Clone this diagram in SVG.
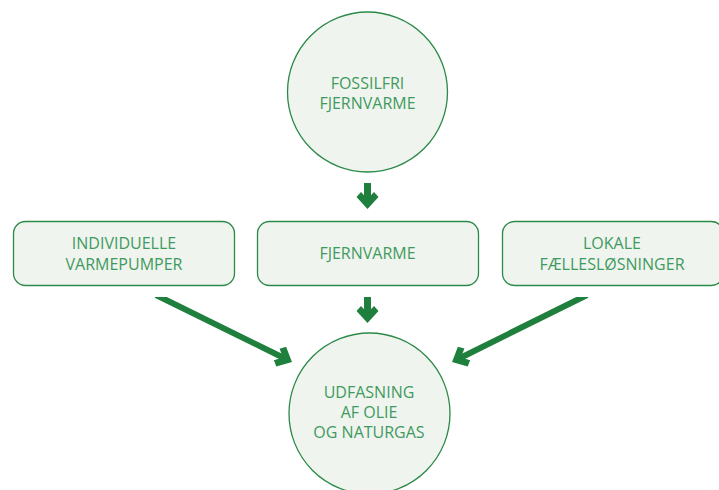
<svg xmlns="http://www.w3.org/2000/svg" width="719" height="490" viewBox="0 0 719 490">
<style>
.node{fill:#eff4ee;stroke:#2b8a48;stroke-width:1.3}
.lbl{font-family:"Open Sans","Noto Sans",sans-serif;font-size:16px;fill:#3f9a5f;text-anchor:middle}
.arr{stroke:#1f7f3d;fill:none}
</style>
<defs>
<marker id="head" markerUnits="userSpaceOnUse" viewBox="-10 -12 20 24" markerWidth="20" markerHeight="24" refX="0" refY="0" orient="auto">
<path d="M9,0 L-3,11 L-8,6.5 L-1,0 L-8,-6.5 L-3,-11 Z" fill="#1f7f3d"/>
</marker>
<clipPath id="below"><rect x="0" y="297" width="719" height="193"/></clipPath>
</defs>
<rect width="719" height="490" fill="#ffffff"/>
<g id="fossilfri">
<circle class="node" cx="367.5" cy="92" r="80"/>
<text class="lbl" x="367.5" y="89">FOSSILFRI</text>
<text class="lbl" x="367.5" y="109">FJERNVARME</text>
</g>
<g id="individuelle">
<rect class="node" x="13.5" y="221.5" width="221" height="64" rx="12"/>
<text class="lbl" x="124" y="249">INDIVIDUELLE</text>
<text class="lbl" x="124" y="270">VARMEPUMPER</text>
</g>
<g id="fjernvarme">
<rect class="node" x="257.5" y="221.5" width="221" height="64" rx="12"/>
<text class="lbl" x="367.5" y="259">FJERNVARME</text>
</g>
<g id="lokale">
<rect class="node" x="502.5" y="221.5" width="221" height="64" rx="12"/>
<text class="lbl" x="612" y="249">LOKALE</text>
<text class="lbl" x="612" y="270">FÆLLESLØSNINGER</text>
</g>
<g id="udfasning">
<circle class="node" cx="369.5" cy="413.5" r="80.5"/>
<text class="lbl" x="369" y="398">UDFASNING</text>
<text class="lbl" x="369" y="418">AF OLIE</text>
<text class="lbl" x="369" y="438">OG NATURGAS</text>
</g>
<g id="connectors">
<line class="arr" stroke-width="7" x1="367.5" y1="183" x2="367.5" y2="200" marker-end="url(#head)"/>
<line class="arr" stroke-width="7" x1="367.5" y1="297" x2="367.5" y2="314" marker-end="url(#head)"/>
<g clip-path="url(#below)">
<line class="arr" stroke-width="6" x1="156" y1="295" x2="283.9" y2="358" marker-end="url(#head)"/>
<line class="arr" stroke-width="6" x1="587" y1="295" x2="460.1" y2="358" marker-end="url(#head)"/>
</g>
</g>
</svg>
